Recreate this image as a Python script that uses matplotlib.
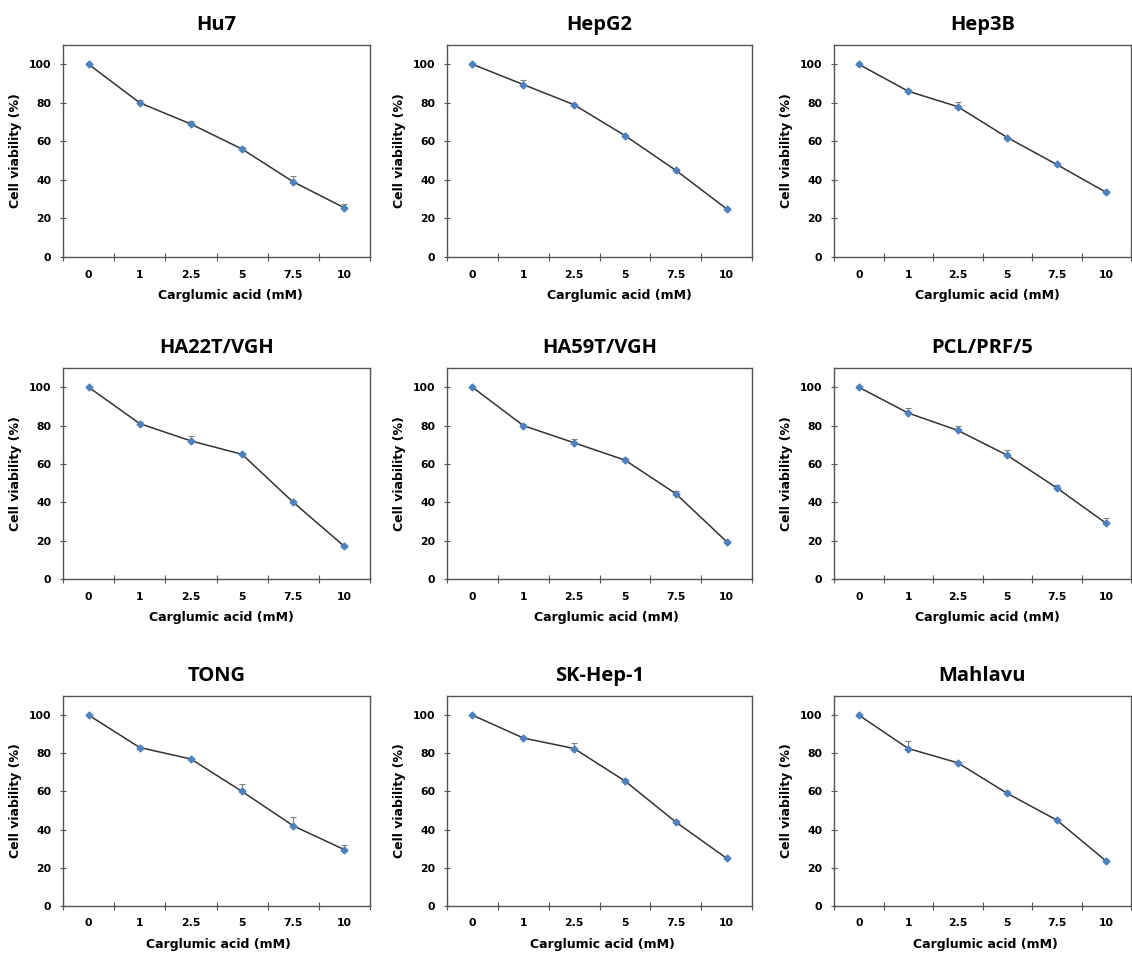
import matplotlib
matplotlib.use('Agg')
import matplotlib.pyplot as plt
import numpy as np

# dose categories (mM)
doses = ['0', '1', '2.5', '5', '7.5', '10']

# cell lines, in panel order
cells = ['Hu7', 'HepG2', 'Hep3B',
         'HA22T/VGH', 'HA59T/VGH', 'PCL/PRF/5',
         'TONG', 'SK-Hep-1', 'Mahlavu']

# mean viability (%)
hu7 = [100, 80, 69, 56, 39, 25.5]
hepg2 = [100, 89.5, 79, 63, 45, 25]
hep3b = [100, 86, 78, 62, 48, 33.5]
ha22t = [100, 81, 72, 65, 40, 17]
ha59t = [100, 80, 71, 62, 44.5, 19.5]
pcl = [100, 86.5, 77.5, 64.5, 47.5, 29]
tong = [100, 83, 77, 60, 42, 29.5]
skhep = [100, 88, 82.5, 65.5, 44, 25]
mahlavu = [100, 82.5, 75, 59, 45, 23.5]

# upper error bars
hu7_err = [0, 1.5, 1.5, 1, 3, 2]
hepg2_err = [0, 2.5, 0.5, 0.5, 0.5, 0.5]
hep3b_err = [0, 1, 2.5, 0.5, 0.5, 0.5]
ha22t_err = [0, 1, 2.5, 0.5, 0.5, 0.5]
ha59t_err = [0, 1, 2, 1, 1.5, 0.5]
pcl_err = [0, 2.5, 2.5, 3, 1.5, 3]
tong_err = [0, 0.5, 0.5, 4, 4.5, 2.5]
skhep_err = [0, 0.5, 3, 1, 0.5, 0.5]
mahlavu_err = [0, 4, 0.5, 1, 0.5, 0.5]

means = [hu7, hepg2, hep3b, ha22t, ha59t, pcl, tong, skhep, mahlavu]
errs = [hu7_err, hepg2_err, hep3b_err, ha22t_err, ha59t_err, pcl_err,
        tong_err, skhep_err, mahlavu_err]

W, H = 1132, 957
fig = plt.figure(figsize=(W / 100, H / 100), dpi=100)

# axes boxes in pixels
col_left = [63, 447, 834]
col_right = [370, 752, 1131]
row_top = [45, 368, 696]
row_bot = [257, 579, 906]
# x label horizontal spot (axes fraction), the original is not quite centred
xlab_pos = [0.545, 0.565, 0.515,
            0.515, 0.524, 0.518,
            0.505, 0.508, 0.51]

lab_font = {'family': 'DejaVu Sans', 'weight': 'bold', 'size': 9}
x = np.arange(len(doses))

for i, name in enumerate(cells):
    r, c = divmod(i, 3)
    l, rt = col_left[c], col_right[c]
    t, b = row_top[r], row_bot[r]
    ax = fig.add_axes([l / W, 1 - b / H, (rt - l) / W, (b - t) / H])

    y = np.array(means[i])
    e = np.array(errs[i])
    ax.errorbar(x, y, yerr=[np.zeros_like(e), e], fmt='none',
                ecolor='#808080', elinewidth=0.8, capsize=2, capthick=0.8, zorder=2)
    ax.plot(x, y, color='#333333', lw=1.1, zorder=3)
    ax.plot(x, y, 'D', color='#4f81bd', ms=3.5, zorder=4)

    ax.set_xlim(-0.5, 5.5)
    ax.set_ylim(0, 110)
    ax.set_yticks([0, 20, 40, 60, 80, 100])
    ax.set_xticks(x)
    ax.set_xticklabels(doses)
    ax.set_xticks(np.arange(-0.5, 5.6, 1), minor=True)
    ax.tick_params(axis='x', which='major', length=0, pad=9)
    ax.tick_params(axis='x', which='minor', direction='inout', length=6,
                   width=0.8, color='#555555')
    ax.tick_params(axis='y', direction='inout', length=5, width=0.8,
                   color='#555555', pad=6)
    for lab in ax.get_xticklabels() + ax.get_yticklabels():
        lab.set_fontfamily('DejaVu Sans')
        lab.set_fontweight('bold')
        lab.set_fontsize(7.8)

    for s in ax.spines.values():
        s.set_color('#555555')
        s.set_linewidth(1.0)

    ax.set_xlabel('Carglumic acid (mM)', fontdict=lab_font, labelpad=7,
                  x=xlab_pos[i])
    ax.set_ylabel('Cell viability (%)', fontdict=lab_font, labelpad=5)
    ax.set_title(name, family='Open Sans', weight='bold', size=14.5, pad=11)

fig.savefig('out.png', dpi=100)
